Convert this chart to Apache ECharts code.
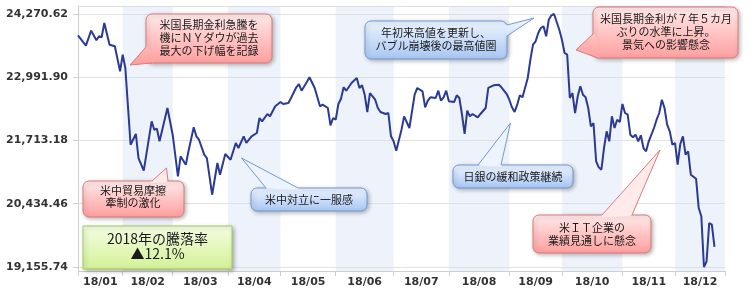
<!DOCTYPE html>
<html><head><meta charset="utf-8">
<script src="https://cdn.jsdelivr.net/npm/echarts@6/dist/echarts.min.js"></script>
<style>html,body{margin:0;padding:0;background:#fff}#c{width:750px;height:300px}</style>
</head><body><div id="c"></div>
<script>
// ---- data ----
const months = ['18/01','18/02','18/03','18/04','18/05','18/06','18/07','18/08','18/09','18/10','18/11','18/12'];
const monthStarts = [0,17,36,57,77,98,120,141,164,184,207,227,246]; // trading-day index where each month begins
const yTicks = [19155.74, 20434.46, 21713.18, 22991.90, 24270.62];
const days = [0,3,5,7,8,9,10,12,14,16,17,18,20,22,23,25,28,29,30,31,34,36,38,39,41,42,44,45,46,48,49,51,53,54,56,58,
  60,61,63,64,66,68,69,70,72,73,75,77,78,80,81,83,84,85,87,88,90,92,93,95,96,97,98,99,100,101,102,104,106,107,108,109,110,111,113,114,115,117,118,119,
  120,121,123,124,126,128,129,131,132,133,134,136,137,138,139,140,141,143,144,145,146,147,148,149,150,152,153,155,156,158,160,161,163,
  164,165,166,167,168,169,171,172,173,174,175,176,177,178,179,180,181,183,184,185,186,187,188,189,190,191,192,193,194,195,196,197,198,199,200,
  201,202,203,204,205,206,207,208,209,210,211,212,213,214,215,216,217,219,220,221,222,223,224,225,226,227,228,229,230,231,232,233,235,236,237,238,239,240,241,242];
const closes = [23840,23630,23933,23739,23820,23800,24089,23650,23618,23112,23448,23179,21628,21845,21359,21103,22101,21931,21952,21697,22370,21830,20989,21394,21224,21495,21980,21798,21729,21426,21359,20617,21258,21022,21440,21325,
  21663,21561,21798,21663,21798,21865,22168,22101,22249,22202,22405,22491,22451,22471,22572,22789,22855,22720,22896,22991,22775,22405,22437,22370,22020,22168,22134,22451,22558,22789,22720,22876,22977,22775,22829,22639,22289,22673,22538,22370,22289,22249,22269,21798,
  21697,21507,21932,22202,21966,22639,22775,22708,22384,22518,22587,22572,22720,22518,22587,22720,22506,22491,22627,22572,22235,21845,22316,22202,22249,22182,22249,22370,22775,22829,22841,22789,22653,
  22538,22384,22289,22437,22627,22587,22977,23347,23650,23719,23886,23988,24022,23820,24155,24244,24270.62,23953,23751,23482,23448,22572,22673,22269,22607,22809,22639,22587,22370,22000,22067,21293,21171,21123,21561,
  21899,21697,22202,21966,22134,22087,22451,22269,22235,21830,21778,21830,21697,21818,21561,21495,21697,21966,22134,22269,22538,22370,22033,21899,21628,21663,21224,21643,21798,21426,21495,21022,20941,20349,20181,19155.74,19271,20045,20011,19562];

// ---- helpers ----
const mids = months.map((m,i)=>(monthStarts[i]+monthStarts[i+1])/2);
const bands = [];
for (let i=1;i<months.length;i+=2) bands.push([{xAxis:monthStarts[i]},{xAxis:monthStarts[i+1]}]);

const CJK = '"Noto Sans CJK JP", sans-serif';
const RED = {stops:['#ffeaea','#ff9f9f'], border:'#d97a7a'};
const BLUE = {stops:['#edf4ff','#a8c7f3'], border:'#7198d2'};
const GREEN = {stops:['#f4fde2','#d3f197'], border:'#9fcc5a'};

function grad(y0,y1,stops){
  return {type:'linear',x:0,y:y0,x2:0,y2:y1,global:true,colorStops:[{offset:0,color:stops[0]},{offset:1,color:stops[1]}]};
}
function callout(o){
  const [x,y,w,h]=o.box; const st=o.style; const els=[];
  const fill=grad(y,y+h,st.stops);
  els.push({type:'rect',shape:{x:x,y:y,width:w,height:h,r:o.r==null?6:o.r},
    style:{fill:fill,stroke:st.border,lineWidth:1,shadowBlur:4,shadowOffsetX:1.5,shadowOffsetY:1.5,shadowColor:'rgba(0,0,0,0.28)'},z:100});
  if (o.tip){
    const cx=x+w/2, cy=y+h/2;
    const inw=p=>{const dx=cx-p[0],dy=cy-p[1];const L=Math.hypot(dx,dy);return [p[0]+dx/L*2.5,p[1]+dy/L*2.5];};
    els.push({type:'polygon',shape:{points:[inw(o.b1),o.b1,o.tip,o.b2,inw(o.b2)]},style:{fill:fill,stroke:null},z:101});
    els.push({type:'polyline',shape:{points:[o.b1,o.tip,o.b2]},style:{fill:null,stroke:st.border,lineWidth:1},z:102});
  }
  els.push({type:'text',x:o.text[0],y:o.text[1],style:{text:o.lines.join('\n'),align:'center',verticalAlign:'middle',
    fontFamily:CJK,fontSize:o.fs||11,lineHeight:o.lh||13,fill:'#1a1a1a'},z:103});
  return els;
}

const graphics = [].concat(
  callout({box:[146,14,126,49],style:RED,tip:[130,65],b1:[146,47],b2:[152,63],text:[209,38],lines:['米国長期金利急騰を','機にＮＹダウが過去','最大の下げ幅を記録']}),
  callout({box:[83,181,101,36],style:RED,tip:[166.5,168],b1:[152,181],b2:[168,181],text:[133,196.5],lh:12,lines:['米中貿易摩擦','牽制の激化']}),
  callout({box:[83,226,149,43],style:GREEN,r:0,text:[157.5,246],fs:14,lh:15,lines:['2018年の騰落率','▲12.1%']}),
  callout({box:[251,188,116,23],style:BLUE,tip:[241.5,158],b1:[266,188],b2:[298,188],text:[309,199.5],lines:['米中対立に一服感']}),
  callout({box:[365,21,142,38],style:BLUE,tip:[534,18],b1:[507,25],b2:[507,36],text:[436,39.5],lines:['年初来高値を更新し、','バブル崩壊後の最高値圏']}),
  callout({box:[453,165,120,23],style:BLUE,tip:[510.5,123],b1:[478,165],b2:[501,165],text:[513,176.5],lines:['日銀の緩和政策継続']}),
  callout({box:[593,7,145,51],style:RED,tip:[576,50],b1:[593,34],b2:[598,58],text:[666,31.5],lines:['米国長期金利が７年５カ月','ぶりの水準に上昇。','景気への影響懸念']}),
  callout({box:[533,215,118,38],style:RED,tip:[660,150],b1:[602,215],b2:[632,215],text:[592,234],lines:['米ＩＴ企業の','業績見通しに懸念']})
);

const labelStyle = {color:'#333',fontWeight:'bold',fontSize:11,fontFamily:'"DejaVu Sans", sans-serif'};
const chart = echarts.init(document.getElementById('c'));
chart.setOption({
  animation:false,
  grid:{left:78,right:25,top:6,bottom:29,containLabel:false},
  xAxis:[{
    type:'value',min:0,max:monthStarts[monthStarts.length-1],position:'bottom',
    axisLine:{show:true,onZero:false,lineStyle:{color:'#cfcfcf'}},
    axisTick:{show:true,customValues:monthStarts,length:5,lineStyle:{color:'#cfcfcf'}},
    axisLabel:Object.assign({customValues:mids,margin:6,formatter:v=>{let b=0;for(let i=0;i<mids.length;i++){if(Math.abs(mids[i]-v)<Math.abs(mids[b]-v))b=i;}return months[b];}},labelStyle),
    splitLine:{show:false}
  },{
    type:'value',min:0,max:monthStarts[monthStarts.length-1],position:'top',
    axisLine:{show:true,onZero:false,lineStyle:{color:'#dedede'}},
    axisTick:{show:false},axisLabel:{show:false},splitLine:{show:false}
  }],
  yAxis:{
    type:'value',min:19074.87,max:24432.36,
    axisLine:{show:true,lineStyle:{color:'#cfcfcf'}},
    axisTick:{show:true,customValues:yTicks,length:5,lineStyle:{color:'#cfcfcf'}},
    axisLabel:Object.assign({customValues:yTicks,margin:10,formatter:v=>v.toLocaleString('en-US',{minimumFractionDigits:2,maximumFractionDigits:2})},labelStyle),
    splitLine:{show:true,lineStyle:{color:'#e2e2e2'}}
  },
  series:[{
    type:'line',xAxisIndex:0,
    data:days.map((d,i)=>[d,closes[i]]),
    showSymbol:false,
    lineStyle:{color:'#2b3a93',width:2},
    markArea:{silent:true,itemStyle:{color:'rgba(205,218,242,0.35)'},data:bands}
  }],
  graphic:graphics
});
</script></body></html>
